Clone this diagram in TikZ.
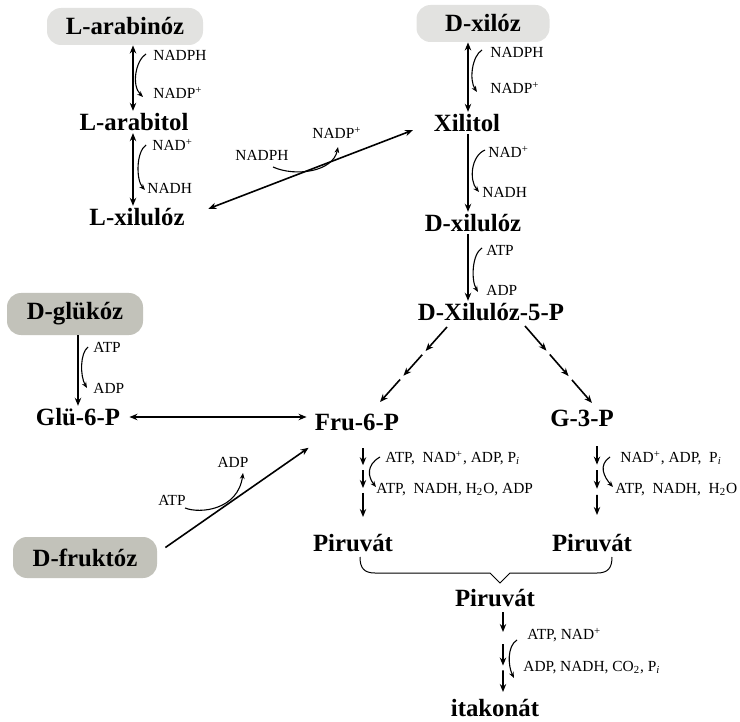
\documentclass[tikz,border=0pt]{standalone}
\usepackage{fontspec}
\setmainfont{Liberation Serif}
\usepackage{tikz}
\usetikzlibrary{positioning,arrows.meta,calc}
\definecolor{boxlight}{RGB}{226,226,224}
\definecolor{boxdark}{RGB}{194,194,186}

\begin{document}
\begin{tikzpicture}[
    x=0.5pt, y=-0.5pt,
    >={Stealth[length=4pt,width=3.2pt]},
    met/.style={font=\fontsize{12.4}{14}\selectfont\bfseries, inner sep=1pt},
    sugar/.style={met, rounded corners=7pt, fill=#1, minimum height=18.5pt, inner sep=0pt},
    lightsugar/.style={sugar=boxlight}, darksugar/.style={sugar=boxdark},
    cof/.style={font=\fontsize{7.7}{9}\selectfont, inner sep=0pt, anchor=west},
    arr/.style={->, line width=0.8pt},
    arrb/.style={<->, line width=0.8pt},
    cofarr/.style={->, line width=0.55pt, >={Stealth[length=3pt,width=2.4pt]}},
]
\useasboundingbox (0,0) rectangle (740,722);

% ---------- starting sugars ----------
\node[lightsugar, minimum width=78pt]   (arab) at (125,26.5) {L-arabinóz};
\node[lightsugar, minimum width=66.5pt] (xyl)  at (483,23.5) {D-xilóz\hspace{11pt}};
\node[darksugar, minimum width=68pt, minimum height=21pt]   (glu) at (75,314)  {D-glükóz};
\node[darksugar, minimum width=72pt, minimum height=20.5pt] (fru) at (85,557.5) {D-fruktóz};

% ---------- intermediates ----------
\node[met] (arabitol) at (134,122) {L-arabitol};
\node[met] (lxylu)    at (137,217) {L-xilulóz};
\node[met] (xylitol)  at (467,123) {Xilitol};
\node[met] (dxylu)    at (473,223) {D-xilulóz};
\node[met] (x5p)      at (491,312) {D-Xilulóz-5-P};
\node[met] (glu6p)    at (78,417)  {Glü-6-P};
\node[met] (fru6p)    at (357,422) {Fru-6-P};
\node[met] (g3p)      at (582,418) {G-3-P};
\node[met] (pyrF)     at (353,543) {Piruvát};
\node[met] (pyrG)     at (592,543) {Piruvát};
\node[met] (pyr)      at (495,598) {Piruvát};
\node[met] (itac)     at (495,708) {itakonát};

% arrow columns
\coordinate (colA) at (133,0);
\coordinate (colX) at (468,0);
\coordinate (colG) at (78,0);

% ---------- main steps ----------
\draw[arrb] (colA |- arab.south)     -- (colA |- arabitol.north);
\draw[arrb] (colA |- arabitol.south) -- (colA |- lxylu.north);
\draw[arrb] (colX |- xyl.south)      -- (colX |- xylitol.north);
\draw[arr]  (colX |- xylitol.south)  -- (colX |- dxylu.north);
\draw[arr]  (colX |- dxylu.south)    -- (colX |- x5p.north);
\draw[arr]  (colG |- glu.south)      -- (colG |- glu6p.north);
\draw[arrb, shorten <=3.5pt, shorten >=3pt] (glu6p.east) -- (glu6p.east -| fru6p.west);
\draw[arrb, shorten <=11.5pt, shorten >=10pt] (lxylu.east) -- (xylitol.west);
\draw[arr]  ($(fru.east)+(8,-10)$) -- ($(fru6p.south west)+(-4,15)$);

% ---------- multi-step (broken) arrows ----------
\coordinate (ls) at (447,327); \coordinate (le) at (380,402);
\coordinate (rs) at (525,326); \coordinate (re) at (592,403);
\coordinate (fs) at (363,448); \coordinate (fe) at (363,517);
\coordinate (gs) at (597,446); \coordinate (ge) at (597,515);
\coordinate (ps) at (503,612); \coordinate (pe) at (503,692);

\draw[arr] (ls) -- ($(ls)!0.32!(le)$);
\draw[arr] ($(ls)!0.37!(le)$) -- ($(ls)!0.65!(le)$);
\draw[arr] ($(ls)!0.70!(le)$) -- (le);
\draw[arr] (rs) -- ($(rs)!0.32!(re)$);
\draw[arr] ($(rs)!0.37!(re)$) -- ($(rs)!0.65!(re)$);
\draw[arr] ($(rs)!0.70!(re)$) -- (re);
\draw[arr] (fs) -- ($(fs)!0.25!(fe)$);
\draw[arr] ($(fs)!0.32!(fe)$) -- ($(fs)!0.58!(fe)$);
\draw[arr] ($(fs)!0.65!(fe)$) -- (fe);
\draw[arr] (gs) -- ($(gs)!0.27!(ge)$);
\draw[arr] ($(gs)!0.35!(ge)$) -- ($(gs)!0.62!(ge)$);
\draw[arr] ($(gs)!0.71!(ge)$) -- (ge);
\draw[arr] (ps) -- ($(ps)!0.25!(pe)$);
\draw[arr] ($(ps)!0.40!(pe)$) -- ($(ps)!0.67!(pe)$);
\draw[arr] ($(ps)!0.73!(pe)$) -- (pe);

% ---------- cofactors ----------
\node[cof] (arNadph) at (153,55) {NADPH};
\node[cof] (arNadp)  at (153,93) {NADP\textsuperscript{+}};
\draw[cofarr] ($(arNadph.west)+(-7,-1)$) .. controls +(-10,6) and +(-12,-12) .. ($(arNadp.west)+(-10,4)$);

\node[cof] (abNad)  at (152,145) {NAD\textsuperscript{+}};
\node[cof] (abNadh) at (147,188) {NADH};
\draw[cofarr] ($(abNad.west)+(-6,0)$) .. controls +(-10,7) and +(-9,-10) .. ($(abNadh.west)+(-2,2)$);

\node[cof] (xyNadph) at (490,52) {NADPH};
\node[cof] (xyNadp)  at (490,88) {NADP\textsuperscript{+}};
\draw[cofarr] ($(xyNadph.west)+(-8,-2)$) .. controls +(-10,6) and +(-8,-12) .. ($(xyNadp.west)+(-13,4)$);

\node[cof] (xlNad)  at (488,152) {NAD\textsuperscript{+}};
\node[cof] (xlNadh) at (482,192) {NADH};
\draw[cofarr] ($(xlNad.west)+(-3,-2)$) .. controls +(-14,6) and +(-10,-12) .. ($(xlNadh.west)+(-3,0)$);

\node[cof] (dxAtp) at (486,250) {ATP};
\node[cof] (dxAdp) at (486,290) {ADP};
\draw[cofarr] ($(dxAtp.west)+(-4,-2)$) .. controls +(-10,6) and +(-7,-12) .. ($(dxAdp.west)+(-8,2)$);

\node[cof] (glAtp) at (93,347) {ATP};
\node[cof] (glAdp) at (93,388) {ADP};
\draw[cofarr] ($(glAtp.west)+(-5,0)$) .. controls +(-8,6) and +(-7,-12) .. ($(glAdp.west)+(-6,0)$);

\node[cof, anchor=center] (lxNadph) at (262,155) {NADPH};
\node[cof, anchor=center] (lxNadp)  at (337,133) {NADP\textsuperscript{+}};
\draw[cofarr] ($(lxNadph)+(11,12)$) .. controls +(22,10) and +(-5,25) .. ($(lxNadp)+(1,14)$);

\node[cof, anchor=center] (frAtp) at (172,500) {ATP};
\node[cof, anchor=center] (frAdp) at (233,462) {ADP};
\draw[cofarr] ($(frAtp)+(13,8)$) .. controls +(15,6) and +(-5,37) .. ($(frAdp)+(10,11)$);

\node[cof] (fpIn)  at (385,458) {ATP,\ \ NAD\textsuperscript{+}, ADP, P\textsubscript{\textit{i}}};
\node[cof] (fpOut) at (376,490) {ATP,\ \ NADH, H\textsubscript{2}O, ADP};
\draw[cofarr] ($(fpIn.west)+(-5,-1)$) .. controls +(-14,8) and +(-8,-10) .. ($(fpOut.west)+(0,-3)$);

\node[cof] (gpIn)  at (620,458) {NAD\textsuperscript{+},\ ADP,\ \ P\textsubscript{\textit{i}}};
\node[cof] (gpOut) at (615,490) {ATP,\ \ NADH,\ \ H\textsubscript{2}O};
\draw[cofarr] ($(gpIn.west)+(-10,-1)$) .. controls +(-12,8) and +(-9,-10) .. ($(gpOut.west)+(-2,-3)$);

\node[cof] (pyIn)  at (527,635) {ATP, NAD\textsuperscript{+}};
\node[cof] (pyOut) at (523,668) {ADP, NADH, CO\textsubscript{2}, P\textsubscript{\textit{i}}};
\draw[cofarr] ($(pyIn.west)+(-10,5)$) .. controls +(-10,6) and +(-6,-12) .. ($(pyOut.west)+(-9,10)$);

% brace joining the two pyruvate pools
\draw[line width=0.5pt] (360,557) .. controls (360,568) and (364,573) .. (375,573) -- (490,573)
    -- (500,583) -- (510,573) -- (597,573) .. controls (608,573) and (612,568) .. (612,557);

\end{tikzpicture}
\end{document}
